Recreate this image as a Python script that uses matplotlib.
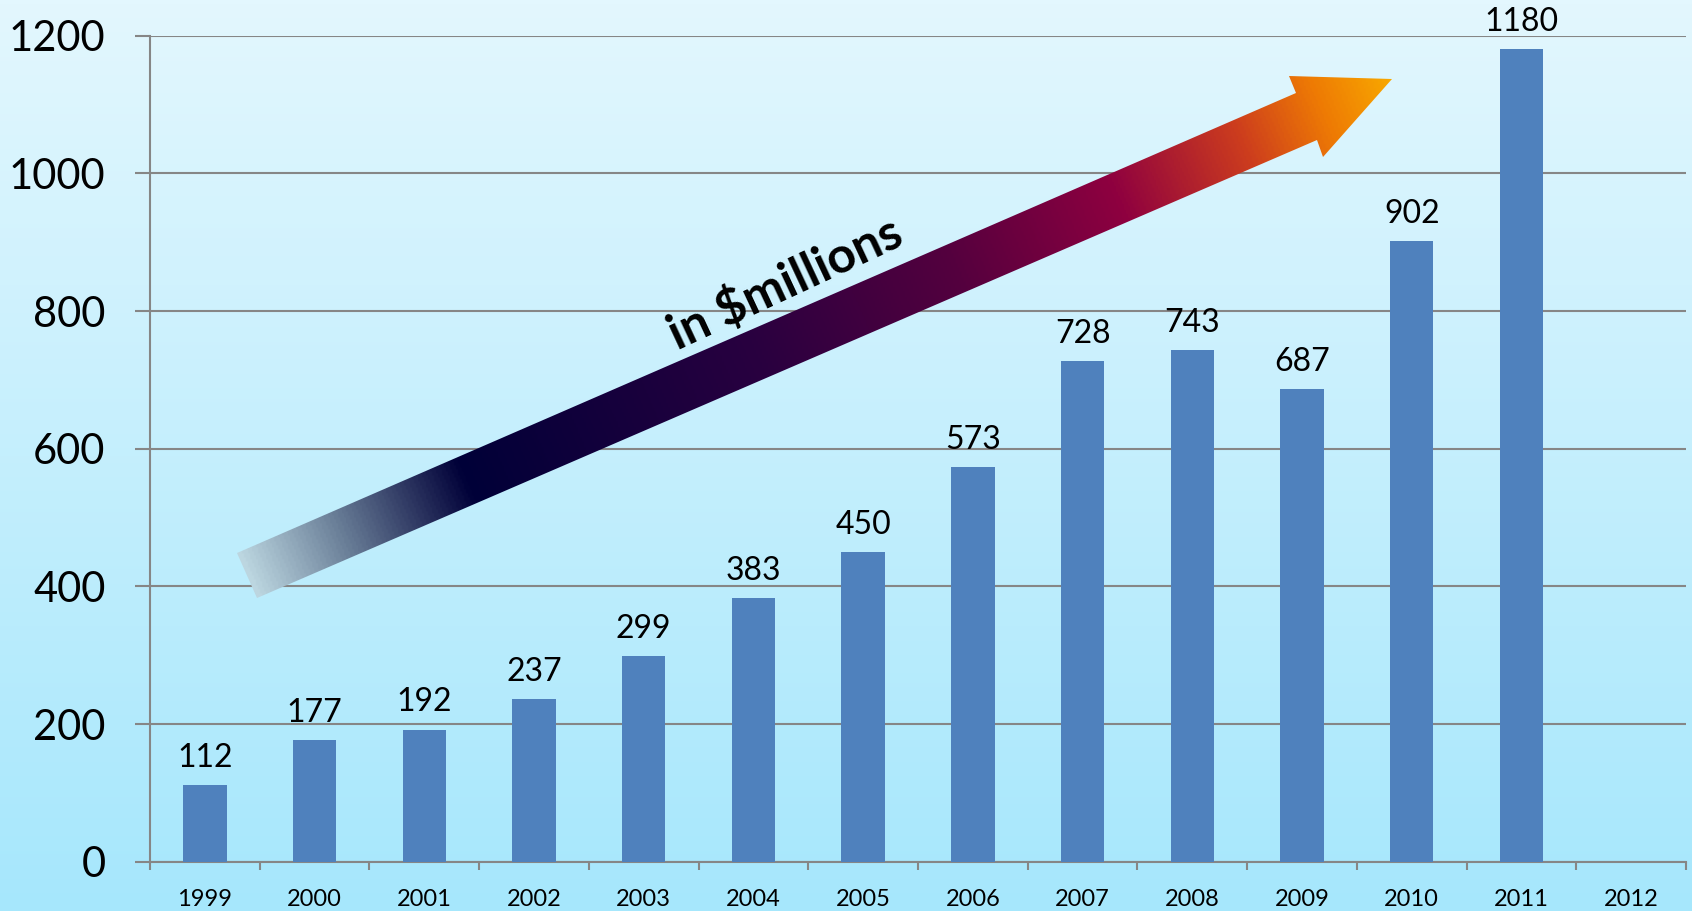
import numpy as np
import matplotlib
matplotlib.use("Agg")
from matplotlib import pyplot as plt
from matplotlib.colors import LinearSegmentedColormap
from matplotlib.patches import Polygon

plt.rcParams['font.family'] = ['Lato', 'DejaVu Sans']

# data
years = ['1999', '2000', '2001', '2002', '2003', '2004', '2005',
         '2006', '2007', '2008', '2009', '2010', '2011', '2012']
values = [112, 177, 192, 237, 299, 383, 450, 573, 728, 743, 687, 902, 1180, None]
yticks = [0, 200, 400, 600, 800, 1000, 1200]

W, H = 1692, 911
fig = plt.figure(figsize=(W / 100, H / 100), dpi=100)

# background gradient
bg = fig.add_axes([0, 0, 1, 1], zorder=-2)
bg_cmap = LinearSegmentedColormap.from_list('bg', ['#a6e7fc', '#e3f7fe'])
bg.imshow(np.linspace(0, 1, 256).reshape(-1, 1), aspect='auto', cmap=bg_cmap,
          origin='lower', extent=[0, 1, 0, 1])
bg.axis('off')

# main chart
ax = fig.add_axes([150 / W, 1 - 861.7 / H, (1686 - 150) / W, (861.7 - 35.7) / H])
ax.set_facecolor('none')
x = np.arange(len(years))
heights = [v if v is not None else 0 for v in values]
bars = ax.bar(x, heights, width=0.395, color='#4f81bd', zorder=3)
for xi, v in zip(x, values):
    if v is None:
        continue
    ax.annotate(str(v), (xi, v), xytext=(0, 13), textcoords='offset points',
                ha='center', va='baseline', fontsize=23, color='black')

ax.set_xlim(-0.5, len(years) - 0.5)
ax.set_ylim(0, 1200)
ax.set_yticks(yticks)
ax.set_yticklabels([str(t) for t in yticks], fontsize=30)
ax.set_xticks(x)
ax.set_xticklabels(years, fontsize=17)
ax.set_xticks(np.arange(len(years) + 1) - 0.5, minor=True)
ax.tick_params(axis='x', which='major', length=0, pad=20)
ax.tick_params(axis='x', which='minor', length=6, width=1.5, color='#868686')
ax.tick_params(axis='y', length=11, width=1.5, color='#868686', pad=21)
ax.yaxis.grid(True, color='#868686', linewidth=1.5, zorder=1)
ax.set_axisbelow(True)
for s in ['top', 'right']:
    ax.spines[s].set_visible(False)
for s in ['left', 'bottom']:
    ax.spines[s].set_color('#868686')
    ax.spines[s].set_linewidth(1.5)

# gradient arrow overlay
ov = fig.add_axes([0, 0, 1, 1], zorder=5)
ov.set_xlim(0, W)
ov.set_ylim(H, 0)
ov.axis('off')
ov.set_facecolor('none')
arrow_pts = [(237, 553), (1296, 93), (1289, 76), (1392, 79),
             (1323, 157), (1317, 140), (257, 598)]
poly = Polygon(arrow_pts, closed=True, facecolor='none', edgecolor='none')
ov.add_patch(poly)

arrow_cmap = LinearSegmentedColormap.from_list('arr', [
    (0.0, '#bcd6e0'), (0.08, '#6a7f98'), (0.19, '#000038'),
    (0.45, '#2a0040'), (0.62, '#55003e'), (0.76, '#8e0040'),
    (0.87, '#cc3c1e'), (0.94, '#ee7a04'), (1.0, '#f8a800')])
tail = np.array([247.0, 576.0])
tip = np.array([1392.0, 79.0])
d = tip - tail
L = np.hypot(*d)
d = d / L
gx, gy = np.meshgrid(np.arange(0, W, 2), np.arange(0, H, 2))
t = ((gx - tail[0]) * d[0] + (gy - tail[1]) * d[1]) / L
im = ov.imshow(np.clip(t, 0, 1), cmap=arrow_cmap, extent=[0, W, H, 0],
               origin='upper', aspect='auto', vmin=0, vmax=1)
im.set_clip_path(poly)
ov.set_xlim(0, W)
ov.set_ylim(H, 0)

ov.text(785, 283, 'in $millions', rotation=25, rotation_mode='anchor',
        ha='center', va='center', fontsize=36, fontweight='bold', color='black')

fig.savefig('out.png', dpi=100)
